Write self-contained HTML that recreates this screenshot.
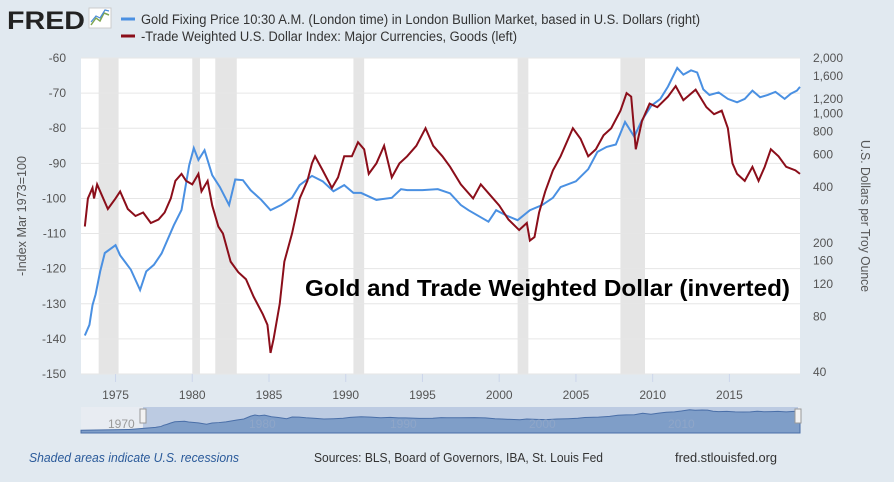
<!DOCTYPE html>
<html><head><meta charset="utf-8"><style>
body{margin:0;background:#e1e9f0;width:894px;height:477px;overflow:hidden;font-family:"Liberation Sans",sans-serif;}
svg text{font-family:"Liberation Sans",sans-serif;}
</style></head><body>
<svg id="c" width="894" height="477">
<rect x="0" y="0" width="894" height="477" fill="#e1e9f0"/>
<g>
<text x="7" y="29" font-size="25" font-weight="bold" fill="#222" textLength="78" lengthAdjust="spacingAndGlyphs">FRED</text>
<rect x="89" y="8" width="22" height="20" fill="#fff" stroke="#ccc"/>
<polyline points="91,25 96,18 100,21 104,13 109,15" fill="none" stroke="#7fa650" stroke-width="1.5"/>
<polyline points="91,22 96,16 100,18 105,10 109,11" fill="none" stroke="#4a8cd8" stroke-width="1.2"/>
</g>
<g>
<line x1="121" y1="19" x2="135" y2="19" stroke="#4a90e2" stroke-width="3"/>
<text x="141" y="24" font-size="13.5" fill="#333" textLength="559" lengthAdjust="spacingAndGlyphs">Gold Fixing Price 10:30 A.M. (London time) in London Bullion Market, based in U.S. Dollars (right)</text>
<line x1="121" y1="36" x2="135" y2="36" stroke="#8b0e1a" stroke-width="3"/>
<text x="141" y="41" font-size="13.5" fill="#333" textLength="376" lengthAdjust="spacingAndGlyphs">-Trade Weighted U.S. Dollar Index: Major Currencies, Goods (left)</text>
</g>
<rect x="81" y="58" width="719" height="316" fill="#fff"/>
<g id="rec"></g><g id="grid"></g><g id="axes"></g><g id="series"></g>
<text x="305" y="296" font-size="23.5" font-weight="bold" fill="#000" textLength="485" lengthAdjust="spacingAndGlyphs">Gold and Trade Weighted Dollar (inverted)</text>
<text transform="translate(26,216) rotate(-90)" text-anchor="middle" font-size="13" fill="#555" textLength="120" lengthAdjust="spacingAndGlyphs">-Index Mar 1973=100</text>
<text transform="translate(861,216) rotate(90)" text-anchor="middle" font-size="13" fill="#555" textLength="152" lengthAdjust="spacingAndGlyphs">U.S. Dollars per Troy Ounce</text>
<g>
<rect x="81" y="407" width="719" height="26" fill="#e8ecf2"/>
<rect x="143" y="407" width="655" height="26" fill="#bccbe2"/>
<path id="navpath" fill="#7f9ec8" stroke="#4a6fa8" stroke-width="1"/>
<text x="108" y="428" font-size="12" fill="#999">1970</text>
<text x="249" y="428" font-size="12" fill="#8fa6c8">1980</text>
<text x="390" y="428" font-size="12" fill="#8fa6c8">1990</text>
<text x="529" y="428" font-size="12" fill="#8fa6c8">2000</text>
<text x="668" y="428" font-size="12" fill="#8fa6c8">2010</text>
<rect x="140" y="409" width="6" height="14" fill="#f2f2f2" stroke="#999"/>
<rect x="795" y="409" width="6" height="14" fill="#f2f2f2" stroke="#999"/>
</g>
<text x="29" y="462" font-size="13" font-style="italic" fill="#2a5a9a" textLength="210" lengthAdjust="spacingAndGlyphs">Shaded areas indicate U.S. recessions</text>
<text x="314" y="462" font-size="13" fill="#333" textLength="289" lengthAdjust="spacingAndGlyphs">Sources: BLS, Board of Governors, IBA, St. Louis Fed</text>
<text x="675" y="462" font-size="13" fill="#333" textLength="102" lengthAdjust="spacingAndGlyphs">fred.stlouisfed.org</text>
</svg>
<script>
const leftTicks=[-60,-70,-80,-90,-100,-110,-120,-130,-140,-150];
const rightTicks=[2000,1600,1200,1000,800,600,400,200,160,120,80,40];
const xTicks=[1975,1980,1985,1990,1995,2000,2005,2010,2015];
const recStart=[1973.9,1980.0,1981.5,1990.5,2001.2,2007.9];
const recEnd=[1975.2,1980.5,1982.9,1991.2,2001.9,2009.5];
const dollarYears=[1973.0,1973.2,1973.5,1973.6,1973.8,1974.0,1974.5,1975.0,1975.3,1975.8,1976.3,1976.8,1977.3,1977.8,1978.2,1978.6,1978.9,1979.3,1979.6,1980.0,1980.4,1980.6,1981.0,1981.3,1981.7,1982.0,1982.5,1983.0,1983.5,1984.0,1984.6,1984.9,1985.1,1985.3,1985.7,1986.0,1986.5,1987.0,1987.5,1987.8,1988.0,1988.5,1989.1,1989.5,1989.9,1990.4,1990.8,1991.2,1991.5,1992.0,1992.5,1993.0,1993.5,1994.0,1994.6,1995.2,1995.7,1996.3,1996.8,1997.5,1998.3,1998.8,1999.4,2000.0,2000.6,2001.3,2001.8,2002.0,2002.3,2002.6,2003.0,2003.5,2004.0,2004.8,2005.3,2005.8,2006.3,2006.8,2007.3,2007.9,2008.3,2008.6,2008.9,2009.3,2009.8,2010.3,2011.0,2011.5,2012.0,2012.8,2013.5,2014.0,2014.5,2014.9,2015.2,2015.5,2016.0,2016.5,2016.9,2017.3,2017.7,2018.2,2018.7,2019.3,2019.6];
const dollarValues=[-108,-100,-97,-100,-96,-98,-103,-100,-98,-103,-105,-104,-107,-106,-104,-100,-95,-93,-95,-96,-93,-98,-95,-102,-108,-110,-118,-121,-123,-128,-133,-136,-144,-140,-130,-118,-110,-100,-95,-90,-88,-92,-97,-94,-88,-88,-84,-86,-93,-90,-85,-94,-90,-88,-85,-80,-85,-88,-91,-96,-100,-96,-99,-102,-106,-109,-107,-112,-111,-104,-98,-92,-88,-80,-83,-88,-86,-82,-80,-75,-70,-71,-86,-78,-73,-74,-71,-68,-72,-69,-74,-76,-75,-80,-90,-93,-95,-91,-95,-91,-86,-88,-91,-92,-93];
const goldYears=[1973.0,1973.3,1973.5,1973.7,1974.0,1974.3,1975.0,1975.3,1976.0,1976.6,1977.0,1977.5,1978.0,1978.8,1979.3,1979.8,1980.1,1980.4,1980.8,1981.3,1981.8,1982.4,1982.8,1983.3,1983.8,1984.5,1985.1,1985.8,1986.5,1987.0,1987.8,1988.5,1989.2,1989.9,1990.5,1991.0,1992.0,1993.0,1993.6,1994.0,1995.0,1996.0,1996.8,1997.5,1998.0,1999.3,1999.8,2000.5,2001.2,2002.0,2002.8,2003.5,2004.0,2005.0,2005.8,2006.4,2007.0,2007.6,2008.2,2008.8,2009.3,2009.9,2010.5,2011.0,2011.6,2012.0,2012.5,2012.9,2013.3,2013.7,2014.3,2014.9,2015.5,2016.0,2016.5,2017.0,2017.5,2018.0,2018.6,2019.0,2019.4,2019.6];
const goldValues=[63,72,92,105,140,176,194,171,143,111,140,152,175,249,301,525,650,561,633,464,400,320,440,436,385,341,300,320,350,410,460,430,380,410,372,372,341,350,390,385,385,390,370,320,300,260,300,280,265,300,320,350,400,430,500,620,660,680,900,750,920,1100,1200,1400,1765,1623,1712,1667,1351,1260,1300,1200,1150,1200,1330,1225,1260,1310,1200,1280,1330,1394];
const L=81,R=800,T=58,B=374;
const xs=yr=>L+(yr-1972.75)*(R-L)/(2019.6-1972.75);
const yl=v=>T+(-60-v)*(B-T)/90;
const yr=p=>372-80.3*Math.log(p/40);
function mk(tag,attrs,parent){const e=document.createElementNS('http://www.w3.org/2000/svg',tag);for(const k in attrs)e.setAttribute(k,attrs[k]);document.getElementById(parent).appendChild(e);return e;}
recStart.forEach((s,i)=>{const e=mk('rect',{x:xs(s),y:T,width:xs(recEnd[i])-xs(s),height:B-T,fill:'#e5e5e5'},'rec');

});
leftTicks.forEach(v=>{const g=mk('line',{x1:L,x2:R,y1:yl(v),y2:yl(v),stroke:'#e6e6e6'},'grid');


const t=mk('text',{x:66,y:yl(v)+4,'text-anchor':'end','font-size':12,fill:'#555'},'axes');t.textContent=v;

});
rightTicks.forEach(p=>{const t=mk('text',{x:813,y:yr(p)+4,'font-size':12,fill:'#555'},'axes');t.textContent=p.toLocaleString('en-US');

});
xTicks.forEach(y=>{const l=mk('line',{x1:xs(y),x2:xs(y),y1:B,y2:B+8,stroke:'#ccd6eb'},'axes');


const t=mk('text',{x:xs(y),y:B+25,'text-anchor':'middle','font-size':12,fill:'#555'},'axes');t.textContent=y;

});
const g=mk('polyline',{points:goldYears.map((y,i)=>xs(y)+','+yr(goldValues[i])).join(' '),fill:'none',stroke:'#4a90e2','stroke-width':2},'series');


const d=mk('polyline',{points:dollarYears.map((y,i)=>xs(y)+','+yl(dollarValues[i])).join(' '),fill:'none',stroke:'#8b0e1a','stroke-width':2},'series');


const nx=y=>81+(y-1967.5)*(800-81)/(2019.6-1967.5);
const ny=p=>431-Math.log(p/30)*5.2;
let pts=[[1967.5,35],[1971,40],[1972.9,60]].concat(goldYears.map((y,i)=>[y,goldValues[i]]));
document.getElementById('navpath').setAttribute('d','M'+nx(1967.5)+',433 '+pts.map(p=>'L'+nx(p[0])+','+ny(p[1])).join(' ')+' L800,433 Z');
</script>
</body></html>
